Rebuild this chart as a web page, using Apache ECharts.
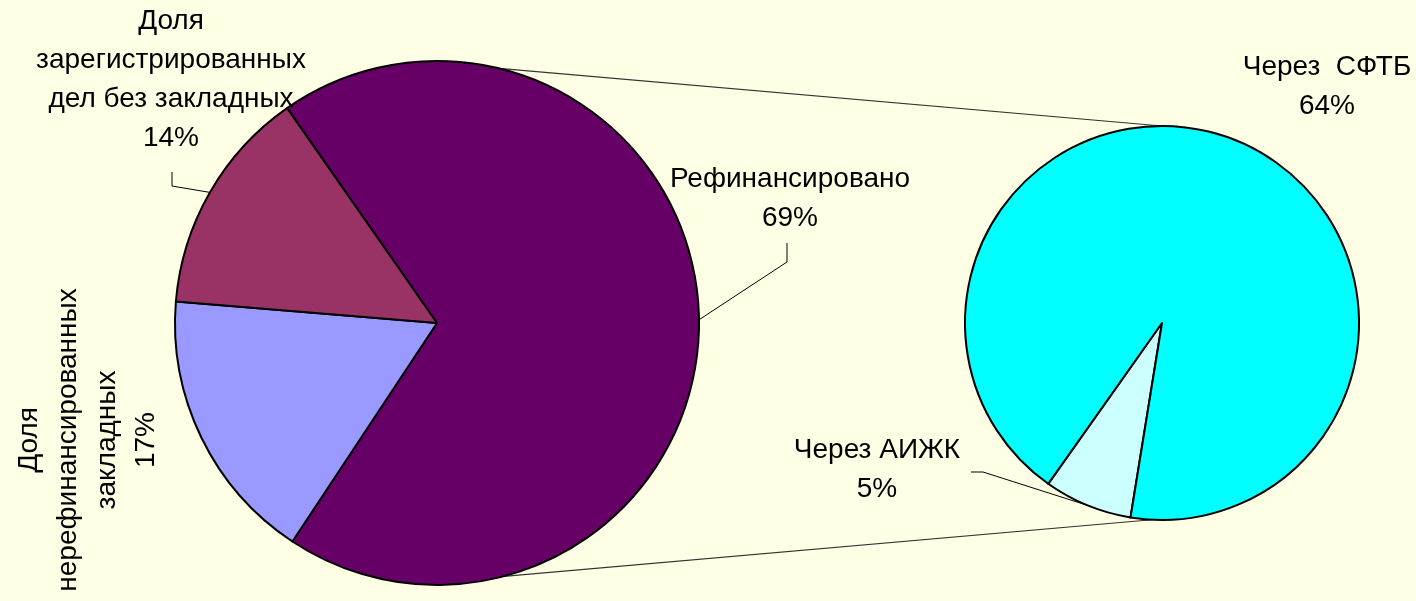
<!DOCTYPE html>
<html>
<head>
<meta charset="utf-8">
<script src="https://cdn.jsdelivr.net/npm/echarts@6/dist/echarts.min.js"></script>
<style>
html,body{margin:0;padding:0;background:#FFFFE6;}
#chart{width:1416px;height:601px;}
</style>
</head>
<body>
<div id="chart"></div>
<script>
// ---- data ----
const mainLabels = ['Рефинансировано', 'Доля\nнерефинансированных\nзакладных', 'Доля\nзарегистрированных\nдел без закладных'];
const mainValues = [69, 17, 14];
const subLabels = ['Через АИЖК', 'Через  СФТБ'];
const subValues = [5, 64];

// ---- geometry / style ----
const mainColors = ['#660066', '#9999FF', '#993366'];
const subColors = ['#CCFFFF', '#00FFFF'];
const L = {cx: 437, cy: 323, r: 262, start: 124.9};
const R = {cx: 1162, cy: 323, r: 197, start: 260.8};
const FONT = 'Liberation Sans';

function pt(g, cwDeg) {
  const a = cwDeg * Math.PI / 180;
  return [g.cx + g.r * Math.sin(a), g.cy - g.r * Math.cos(a)];
}
function midAngles(g, values) {
  const total = values.reduce((a, b) => a + b, 0);
  let cw = 90 - g.start;
  return values.map(v => {
    const span = v / total * 360;
    const m = cw + span / 2;
    cw += span;
    return m;
  });
}
const mainMid = midAngles(L, mainValues);
const subMid = midAngles(R, subValues);

// label placement (center of text block) and leader bends
const mainLabelPos = [
  {x: 790, y: 199, line: [[787, 262], [787, 243]]},
  {x: 88, y: 440, rotate: 90, line: null},
  {x: 171, y: 80, line: [[172, 186], [172, 172]]}
];
const subLabelPos = [
  {x: 877, y: 470, line: [[983, 472], [971, 472]]},
  {x: 1327, y: 87, line: null}
];

function mkData(labels, values, colors, pos) {
  return values.map((v, i) => ({
    name: labels[i], value: v,
    itemStyle: {color: colors[i]},
    labelLine: {show: !!pos[i].line}
  }));
}

const labelStyle = {
  show: true, position: 'outside', color: '#000',
  fontFamily: FONT, fontSize: 28, lineHeight: 39, align: 'center',
  formatter: p => p.name + '\n' + p.value + '%'
};

function layoutFn(g, mids, pos) {
  return function (params) {
    const p = pos[params.dataIndex];
    const out = {x: p.x, y: p.y, align: 'center', verticalAlign: 'middle'};
    if (p.rotate) out.rotate = p.rotate;
    if (p.line) out.labelLinePoints = [pt(g, mids[params.dataIndex]), p.line[0], p.line[1]];
    return out;
  };
}

// connector lines between the pies
const topA = pt(L, 13.7), topB = pt(R, 0);
const botA = pt(L, 165.2), botB = pt(R, 183);

const chart = echarts.init(document.getElementById('chart'));
chart.setOption({
  backgroundColor: '#FFFFE6',
  animation: false,
  graphic: [
    {type: 'line', z: -1, shape: {x1: topA[0], y1: topA[1], x2: topB[0], y2: topB[1]}, style: {stroke: '#333', lineWidth: 1.2}},
    {type: 'line', z: -1, shape: {x1: botA[0], y1: botA[1], x2: botB[0], y2: botB[1]}, style: {stroke: '#333', lineWidth: 1.2}}
  ],
  series: [
    {
      type: 'pie', center: [L.cx, L.cy], radius: L.r, startAngle: L.start, clockwise: true,
      avoidLabelOverlap: false,
      itemStyle: {borderColor: '#000', borderWidth: 2},
      label: labelStyle,
      labelLine: {lineStyle: {color: '#000', width: 1}},
      labelLayout: layoutFn(L, mainMid, mainLabelPos),
      emphasis: {disabled: true},
      data: mkData(mainLabels, mainValues, mainColors, mainLabelPos)
    },
    {
      type: 'pie', center: [R.cx, R.cy], radius: R.r, startAngle: R.start, clockwise: true,
      avoidLabelOverlap: false,
      itemStyle: {borderColor: '#000', borderWidth: 2},
      label: labelStyle,
      labelLine: {lineStyle: {color: '#000', width: 1}},
      labelLayout: layoutFn(R, subMid, subLabelPos),
      emphasis: {disabled: true},
      data: mkData(subLabels, subValues, subColors, subLabelPos)
    }
  ]
});
</script>
</body>
</html>
